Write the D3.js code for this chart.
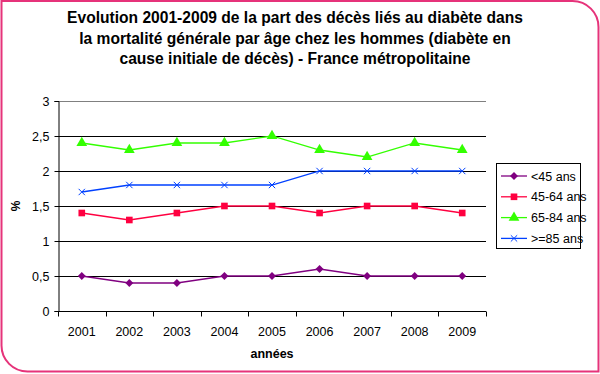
<!DOCTYPE html>
<html>
<head>
<meta charset="utf-8">
<script src="https://cdn.jsdelivr.net/npm/d3@7"></script>
<style>
  body { margin: 0; background: #fff; }
  svg { display: block; font-family: "Liberation Sans", Arial, sans-serif; }
</style>
</head>
<body>
<div id="chart"></div>
<script>
// data
var years = ["2001", "2002", "2003", "2004", "2005", "2006", "2007", "2008", "2009"];
var seriesNames = ["<45 ans", "45-64 ans", "65-84 ans", ">=85 ans"];
var under45 = [0.5, 0.4, 0.4, 0.5, 0.5, 0.6, 0.5, 0.5, 0.5];
var age45to64 = [1.4, 1.3, 1.4, 1.5, 1.5, 1.4, 1.5, 1.5, 1.4];
var age65to84 = [2.4, 2.3, 2.4, 2.4, 2.5, 2.3, 2.2, 2.4, 2.3];
var over85 = [1.7, 1.8, 1.8, 1.8, 1.8, 2.0, 2.0, 2.0, 2.0];
var yTicks = [0, 0.5, 1, 1.5, 2, 2.5, 3];
var titleLines = [
  "Evolution 2001-2009 de la part des décès liés au diabète dans",
  "la mortalité générale par âge chez les hommes (diabète en",
  "cause initiale de décès) - France métropolitaine"
];

var width = 600, height = 374;
var margin = {top: 101, right: 114, bottom: 63, left: 58};

var colors = ["#800080", "#ff0040", "#33ff00", "#0040ff"];
var symbols = [d3.symbolDiamond2, d3.symbolSquare, d3.symbolTriangle, d3.symbolTimes];
var symSizes = [40, 44, 50, 28];
var allSeries = [under45, age45to64, age65to84, over85];

var svg = d3.select("#chart").append("svg")
  .attr("width", width)
  .attr("height", height);

// pink frame, rounded top-right and bottom-left
var r = 26, fx0 = 1.5, fy0 = 1, fx1 = 598.5, fy1 = 371.5;
svg.append("path")
  .attr("d", "M" + fx0 + "," + fy0 + "H" + (fx1 - r) +
    "A" + r + "," + r + " 0 0 1 " + fx1 + "," + (fy0 + r) +
    "V" + fy1 + "H" + (fx0 + r) +
    "A" + r + "," + r + " 0 0 1 " + fx0 + "," + (fy1 - r) + "Z")
  .attr("fill", "#fff")
  .attr("stroke", "#e6337a")
  .attr("stroke-width", 2);

// title
svg.append("text")
  .attr("text-anchor", "middle")
  .attr("font-size", "15.6px")
  .attr("font-weight", "bold")
  .attr("fill", "#000")
  .selectAll("tspan")
  .data(titleLines)
  .join("tspan")
  .attr("x", 295)
  .attr("y", function (d, i) { return 23 + i * 20.5; })
  .text(function (d) { return d; });

var x = d3.scaleBand()
  .domain(years)
  .range([margin.left, width - margin.right]);

var y = d3.scaleLinear()
  .domain([0, 3])
  .range([height - margin.bottom, margin.top]);

// gridlines
svg.append("g")
  .selectAll("line")
  .data(yTicks.slice(1))
  .join("line")
  .attr("x1", margin.left)
  .attr("x2", width - margin.right)
  .attr("y1", function (d) { return Math.round(y(d)) + 0.5; })
  .attr("y2", function (d) { return Math.round(y(d)) + 0.5; })
  .attr("stroke", function (d) { return d === 3 ? "#808080" : "#000"; })
  .attr("stroke-width", 1);

// y axis
svg.append("g")
  .attr("transform", "translate(" + (margin.left + 0.5) + ",0)")
  .call(d3.axisLeft(y).tickValues(yTicks).tickSize(4).tickPadding(5)
    .tickFormat(function (d) { return String(d).replace(".", ","); }))
  .call(function (g) { g.select(".domain").attr("stroke", "#000"); })
  .call(function (g) {
    g.selectAll("text").attr("font-size", "12.5px").attr("fill", "#000")
      .attr("font-family", "Liberation Sans, Arial, sans-serif");
  });

// x axis with ticks between categories
var xAxisG = svg.append("g")
  .attr("transform", "translate(0," + (Math.round(y(0)) + 0.5) + ")");
xAxisG.append("line")
  .attr("x1", margin.left).attr("x2", width - margin.right)
  .attr("stroke", "#000");
var tickPos = years.map(function (d) { return x(d); }).concat([width - margin.right]);
xAxisG.selectAll("line.tk")
  .data(tickPos)
  .join("line")
  .attr("class", "tk")
  .attr("x1", function (d) { return Math.round(d) + 0.5; })
  .attr("x2", function (d) { return Math.round(d) + 0.5; })
  .attr("y1", 0).attr("y2", 5)
  .attr("stroke", "#000");
xAxisG.selectAll("text")
  .data(years)
  .join("text")
  .attr("x", function (d) { return x(d) + x.bandwidth() / 2; })
  .attr("y", 24)
  .attr("text-anchor", "middle")
  .attr("font-size", "12.5px")
  .attr("fill", "#000")
  .text(function (d) { return d; });

// axis titles
svg.append("text")
  .attr("x", 272).attr("y", 358)
  .attr("text-anchor", "middle")
  .attr("font-size", "12.5px")
  .attr("font-weight", "bold")
  .text("années");
svg.append("text")
  .attr("transform", "translate(20,206) rotate(-90)")
  .attr("text-anchor", "middle")
  .attr("font-size", "12px")
  .attr("font-weight", "bold")
  .text("%");

// lines + markers
var line = d3.line()
  .x(function (d, i) { return x(years[i]) + x.bandwidth() / 2; })
  .y(function (d) { return y(d); });

allSeries.forEach(function (vals, k) {
  var g = svg.append("g");
  g.append("path")
    .datum(vals)
    .attr("fill", "none")
    .attr("stroke", colors[k])
    .attr("stroke-width", 1.3)
    .attr("d", line);
  g.selectAll("path.m")
    .data(vals)
    .join("path")
    .attr("class", "m")
    .attr("transform", function (d, i) {
      return "translate(" + (x(years[i]) + x.bandwidth() / 2) + "," + y(d) + ")";
    })
    .attr("d", d3.symbol().type(symbols[k]).size(symSizes[k]))
    .attr("fill", k === 3 ? "none" : colors[k])
    .attr("stroke", k === 3 ? colors[k] : "none")
    .attr("stroke-width", 1);
});

// legend
var lg = svg.append("g");
lg.append("rect")
  .attr("x", 496.5).attr("y", 163.5)
  .attr("width", 84).attr("height", 85)
  .attr("fill", "#fff")
  .attr("stroke", "#000");
seriesNames.forEach(function (name, k) {
  var ly = 176 + k * 20.8;
  lg.append("line")
    .attr("x1", 501).attr("x2", 527)
    .attr("y1", ly).attr("y2", ly)
    .attr("stroke", colors[k]).attr("stroke-width", 1.3);
  lg.append("path")
    .attr("transform", "translate(514," + ly + ")")
    .attr("d", d3.symbol().type(symbols[k]).size(symSizes[k]))
    .attr("fill", k === 3 ? "none" : colors[k])
    .attr("stroke", k === 3 ? colors[k] : "none");
  lg.append("text")
    .attr("x", 531).attr("y", ly + 4.5)
    .attr("font-size", "12.5px")
    .attr("fill", "#000")
    .text(name);
});
</script>
</body>
</html>
